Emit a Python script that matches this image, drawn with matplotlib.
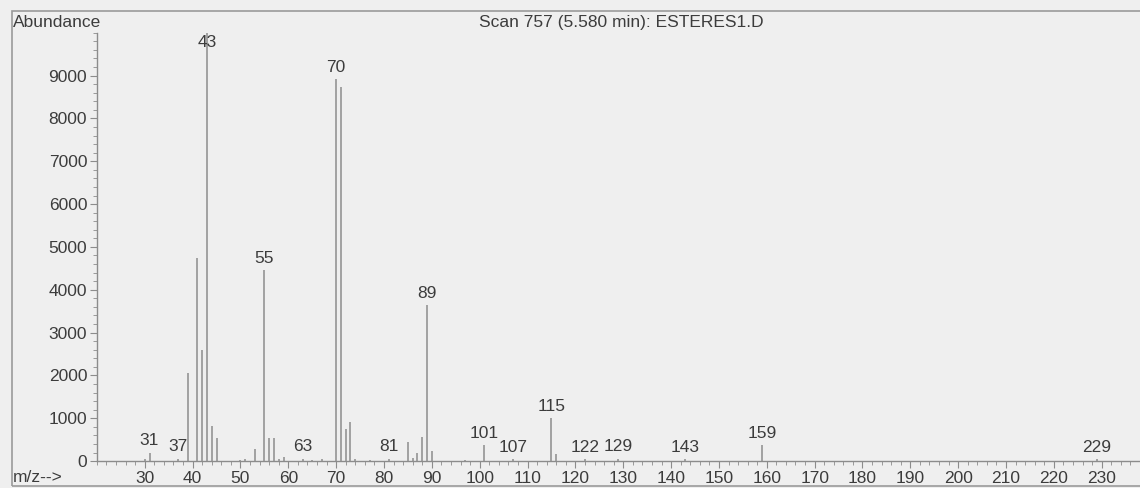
import matplotlib.pyplot as plt
from matplotlib.patches import Rectangle
from matplotlib.ticker import MultipleLocator

plt.rcParams['font.family'] = ['Liberation Sans', 'DejaVu Sans']

title = 'Scan 757 (5.580 min): ESTERES1.D'

# m/z and abundance
mz = [30, 31, 37, 39, 41, 42, 43, 44, 45, 50, 51, 53, 55, 56, 57, 58, 59, 63,
      65, 67, 70, 71, 72, 73, 74, 77, 81, 85, 86, 87, 88, 89, 90, 97, 101,
      107, 115, 116, 122, 129, 143, 159, 229]
abundance = [60, 200, 60, 2050, 4740, 2590, 10000, 820, 540, 30, 60, 280, 4460,
             540, 530, 60, 90, 60, 30, 60, 8920, 8740, 750, 910, 60, 30, 60,
             440, 80, 190, 560, 3640, 230, 30, 370, 40, 1000, 160, 40, 60, 40,
             370, 40]
labelled = [31, 37, 43, 55, 63, 70, 81, 89, 101, 107, 115, 122, 129, 143, 159, 229]

bg = '#efefef'
line_c = '#8c8c8c'
text_c = '#3c3c3c'
fs = 12.5

fig = plt.figure(figsize=(11.4, 4.88), dpi=100, facecolor=bg)
ax = fig.add_axes([0.085, 0.055, 0.915, 0.878], facecolor=bg)

ax.vlines(mz, 0, abundance, color=line_c, lw=1.1)
for m, h in zip(mz, abundance):
    if m in labelled:
        ax.annotate(str(m), (m, min(h, 9500)), xytext=(0, 3), textcoords='offset points',
                    ha='center', va='bottom', fontsize=fs, color=text_c)

ax.set_xlim(20, 238)
ax.set_ylim(0, 10000)
ax.xaxis.set_minor_locator(MultipleLocator(2))
ax.yaxis.set_minor_locator(MultipleLocator(200))
ax.set_xticks(range(30, 231, 10))
ax.set_yticks(range(0, 9001, 1000))
ax.tick_params(axis='both', which='major', length=5, color=line_c, labelcolor=text_c,
               labelsize=fs, pad=2)
ax.tick_params(axis='both', which='minor', length=3, color=line_c)
for s in ['top', 'right']:
    ax.spines[s].set_visible(False)
for s in ['left', 'bottom']:
    ax.spines[s].set_color(line_c)
    ax.spines[s].set_linewidth(1.0)

fig.text(0.545, 0.953, title, ha='center', va='center', fontsize=fs, color=text_c)
fig.text(0.011, 0.953, 'Abundance', ha='left', va='center', fontsize=fs, color=text_c)
fig.text(0.011, 0.022, 'm/z-->', ha='left', va='center', fontsize=fs, color=text_c)
fig.patches.append(Rectangle((0.0105, 0.004), 1.0, 0.973, transform=fig.transFigure,
                             fill=False, edgecolor='#9a9a9a', lw=1.2))

fig.savefig('out.png', dpi=100, facecolor=bg)
